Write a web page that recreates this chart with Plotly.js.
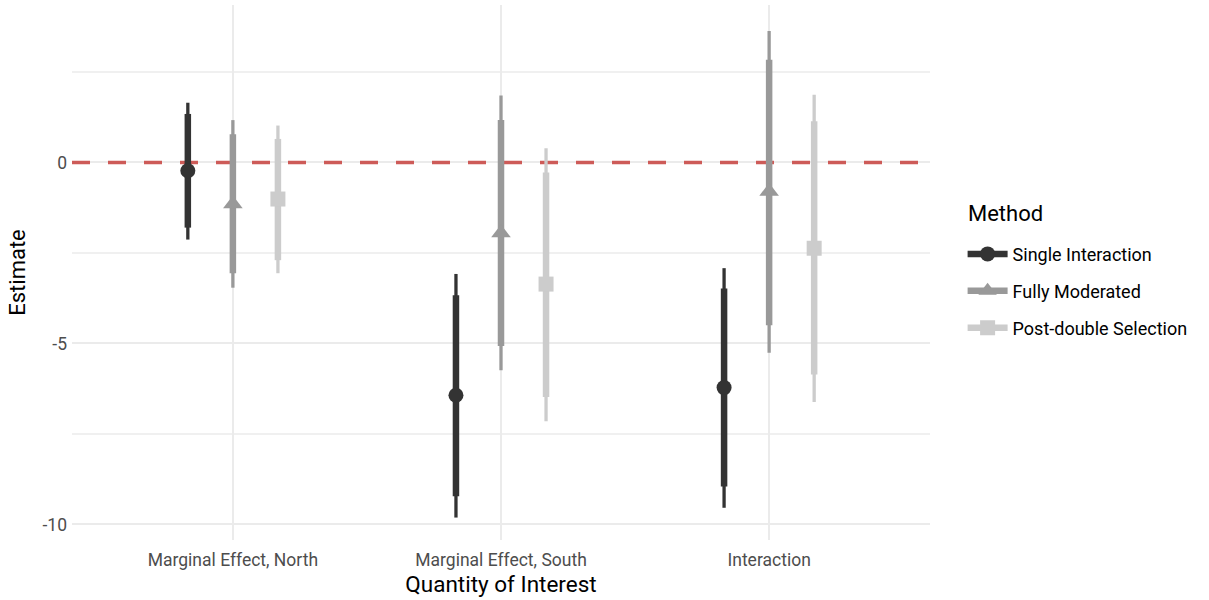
<!DOCTYPE html>
<html>
<head>
<meta charset="utf-8">
<script src="https://cdn.plot.ly/plotly-3.0.1.min.js"></script>
<style>html,body{margin:0;padding:0;background:#fff;}#chart{width:1209px;height:600px;}</style>
</head>
<body>
<div id="chart"></div>
<script>
const categories = ["Marginal Effect, North", "Marginal Effect, South", "Interaction"];
const methods = ["Single Interaction", "Fully Moderated", "Post-double Selection"];

// per method: values for the three categories
const estimate = {
  "Single Interaction":     [-0.23, -6.43, -6.22],
  "Fully Moderated":        [-1.15, -1.95, -0.80],
  "Post-double Selection":  [-1.01, -3.36, -2.37]
};
const innerLow = {
  "Single Interaction":     [-1.80, -9.22, -8.95],
  "Fully Moderated":        [-3.06, -5.07, -4.50],
  "Post-double Selection":  [-2.70, -6.48, -5.86]
};
const innerHigh = {
  "Single Interaction":     [1.34, -3.67, -3.48],
  "Fully Moderated":        [0.78, 1.17, 2.84],
  "Post-double Selection":  [0.65, -0.28, 1.14]
};
const outerLow = {
  "Single Interaction":     [-2.13, -9.81, -9.54],
  "Fully Moderated":        [-3.46, -5.74, -5.26],
  "Post-double Selection":  [-3.06, -7.15, -6.62]
};
const outerHigh = {
  "Single Interaction":     [1.65, -3.08, -2.92],
  "Fully Moderated":        [1.17, 1.85, 3.63],
  "Post-double Selection":  [1.02, 0.39, 1.87]
};

const colors = {"Single Interaction": "#333333", "Fully Moderated": "#999999", "Post-double Selection": "#cccccc"};
const symbols = {"Single Interaction": "circle", "Fully Moderated": "triangle-up", "Post-double Selection": "square"};
const sizes = {"Single Interaction": 15, "Fully Moderated": 17, "Post-double Selection": 15};
const dodge = 0.168;

const FONT = "Roboto, 'Open Sans', sans-serif";
const traces = [];

// reference zero line
traces.push({
  type: "scatter", mode: "lines", x: [-0.6, 2.6], y: [0, 0],
  line: {color: "#cd5b58", width: 3.5, dash: "18px,18px"},
  showlegend: false, hoverinfo: "skip"
});

methods.forEach((m, mi) => {
  const off = (mi - 1) * dodge;
  const xs = categories.map((c, i) => i + off);
  function seg(lo, hi) {
    const X = [], Y = [];
    xs.forEach((x, i) => { X.push(x, x, null); Y.push(lo[m][i], hi[m][i], null); });
    return {X, Y};
  }
  const o = seg(outerLow, outerHigh);
  traces.push({type: "scatter", mode: "lines", x: o.X, y: o.Y,
    line: {color: colors[m], width: 3.3}, showlegend: false, hoverinfo: "skip"});
  const n = seg(innerLow, innerHigh);
  traces.push({type: "scatter", mode: "lines", x: n.X, y: n.Y,
    line: {color: colors[m], width: 6.5}, showlegend: false, hoverinfo: "skip"});
  traces.push({type: "scatter", mode: "markers", x: xs, y: estimate[m],
    marker: {color: colors[m], symbol: symbols[m], size: sizes[m]}, showlegend: false});
  // legend entry
  traces.push({type: "scatter", mode: "lines+markers", x: [null], y: [null], name: m,
    legendgroup: "g" + mi,
    line: {color: colors[m], width: 6.5},
    marker: {color: colors[m], symbol: symbols[m], size: sizes[m]}, showlegend: true});
});

const layout = {
  width: 1209, height: 600,
  margin: {l: 72, r: 279, t: 5, b: 60},
  paper_bgcolor: "#ffffff", plot_bgcolor: "#ffffff",
  font: {family: FONT, color: "#4d4d4d", size: 17},
  xaxis: {
    range: [-0.6, 2.6], tickvals: [0, 1, 2], ticktext: categories,
    showgrid: true, gridcolor: "#ebebeb", gridwidth: 2,
    zeroline: false, showline: false, ticks: "",
    ticklabelstandoff: 7,
    tickfont: {size: 17.5, color: "#4d4d4d", family: FONT},
    title: {text: "Quantity of Interest", font: {size: 22.5, color: "#000000", family: FONT}, standoff: 7}
  },
  yaxis: {
    range: [-10.43, 4.35], tickvals: [-10, -5, 0], ticktext: ["-10", "-5", "0"],
    showgrid: true, gridcolor: "#ebebeb", gridwidth: 2,
    minor: {tickvals: [-7.5, -2.5, 2.5], showgrid: true, gridcolor: "#f0f0f0", gridwidth: 1.5, ticks: ""},
    zeroline: false, showline: false, ticks: "",
    ticklabelstandoff: 4,
    tickfont: {size: 17.5, color: "#4d4d4d", family: FONT},
    title: {text: "Estimate", font: {size: 22, color: "#000000", family: FONT}, standoff: 10}
  },
  annotations: [{
    text: "Method", xref: "paper", yref: "paper", x: 1.042, y: 0.611,
    xanchor: "left", yanchor: "middle", showarrow: false,
    font: {size: 22, color: "#000000", family: FONT}
  }],
  legend: {
    x: 1.038, y: 0.465, xanchor: "left", yanchor: "middle",
    font: {size: 18, color: "#000000", family: FONT},
    itemwidth: 40, tracegroupgap: 10.5, bgcolor: "rgba(0,0,0,0)"
  },
  showlegend: true
};

Plotly.newPlot("chart", traces, layout, {staticPlot: true, displayModeBar: false});
</script>
</body>
</html>
